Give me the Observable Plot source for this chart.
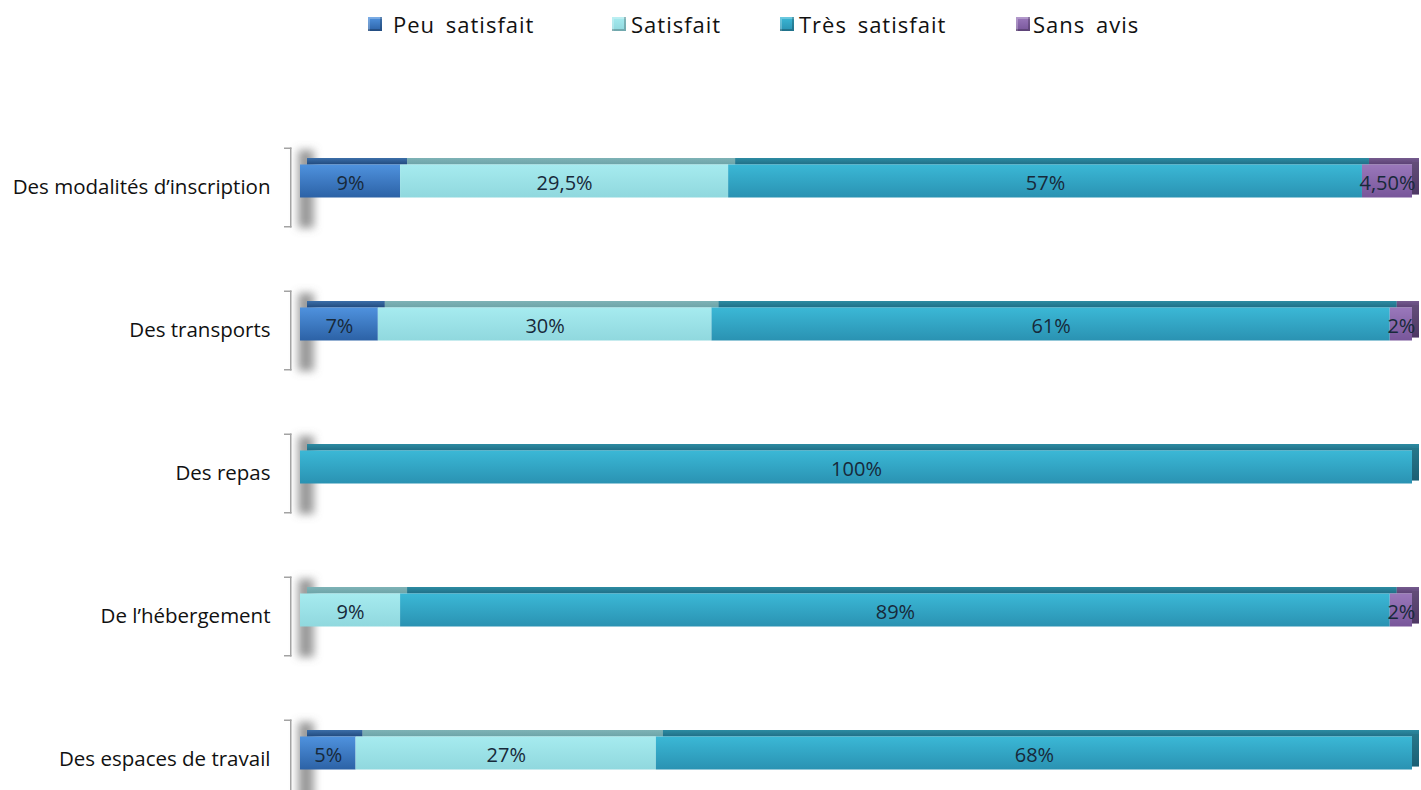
<!DOCTYPE html>
<html>
<head>
<meta charset="utf-8">
<script src="https://cdn.jsdelivr.net/npm/d3@7"></script>
<script src="https://cdn.jsdelivr.net/npm/@observablehq/plot@0.6"></script>
<style>
  html, body { margin: 0; padding: 0; background: #fff; }
  body { width: 1421px; height: 790px; overflow: hidden; font-family: "Open Sans", sans-serif; }
  #legend { position: relative; height: 40px; width: 1421px; }
  .item { position: absolute; top: 9px; font-size: 22px; line-height: 30px; letter-spacing: 1px; word-spacing: 4px; color: #111; display: flex; align-items: center; white-space: nowrap; }
  .sw { width: 14px; height: 14px; margin-right: 11px; box-shadow: inset -2px -2px 0 rgba(0,0,0,0.22), inset 2px 2px 0 rgba(255,255,255,0.25); }
</style>
</head>
<body>
<div id="legend"></div>
<div id="chart"></div>
<script>
const categories = ["Des modalités d’inscription", "Des transports", "Des repas", "De l’hébergement", "Des espaces de travail"];
const series = ["Peu satisfait", "Satisfait", "Très satisfait", "Sans avis"];
const peuSatisfait  = [9, 7, 0, 0, 5];
const satisfait     = [29.5, 30, 0, 9, 27];
const tresSatisfait = [57, 61, 100, 89, 68];
const sansAvis      = [4.5, 2, 0, 2, 0];
const labelsPeu   = ["9%", "7%", "", "", "5%"];
const labelsSat   = ["29,5%", "30%", "", "9%", "27%"];
const labelsTres  = ["57%", "61%", "100%", "89%", "68%"];
const labelsSans  = ["4,50%", "2%", "", "2%", ""];

const colorsTop = ["#4f92de", "#a6ebef", "#3bb8d6", "#9a78bb"];
const colorsBottom = ["#2c62a6", "#90d8de", "#2a92b2", "#78569a"];
const legendLeft = [368, 612, 780, 1016];

const valuesBySeries = [peuSatisfait, satisfait, tresSatisfait, sansAvis];
const labelsBySeries = [labelsPeu, labelsSat, labelsTres, labelsSans];

const rows = [];
categories.forEach((cat, i) => {
  series.forEach((s, j) => {
    rows.push({cat, series: s, value: valuesBySeries[j][i], label: labelsBySeries[j][i]});
  });
});
const lastSeries = new Map(categories.map((cat, i) => {
  let last = series[0];
  series.forEach((s, j) => { if (valuesBySeries[j][i] > 0) last = s; });
  return [cat, last];
}));

// legend
const legend = document.getElementById("legend");
series.forEach((s, j) => {
  const it = document.createElement("div");
  it.className = "item";
  it.style.left = legendLeft[j] + "px";
  const sw = document.createElement("span");
  sw.className = "sw";
  sw.style.background = `linear-gradient(${colorsTop[j]}, ${colorsBottom[j]})`;
  if (j === 3) sw.style.marginRight = "3px";
  if (j === 1 || j === 2) sw.style.marginRight = "5px";
  it.appendChild(sw);
  it.appendChild(document.createTextNode(s));
  legend.appendChild(it);
});

const bw = 86;
const frontInset = 26.5;
const shadowFill = "#707071";
const color = {domain: series, range: series.map((s, j) => `url(#grad${j})`)};

const chart = Plot.plot({
  width: 1421,
  height: 757,
  marginLeft: 300,
  marginRight: 9,
  marginTop: 97.5,
  marginBottom: 0,
  style: {fontFamily: "Open Sans, sans-serif", fontSize: "20px", background: "white", overflow: "visible"},
  x: {domain: [0, 100], axis: null},
  y: {domain: categories, paddingInner: 0.4, paddingOuter: 0, axis: null},
  color,
  marks: [
    // 3D wall shadow
    Plot.barX(categories, {x1: 0, x2: 0, y: d => d, insetLeft: -2, insetRight: -14, insetTop: 12, insetBottom: -4, fill: shadowFill, fillOpacity: 0.7}),
    // brackets
    Plot.barX(categories, {x1: 0, x2: 0, y: d => d, insetLeft: -10, insetRight: 8.5, insetTop: 9.5, insetBottom: -3.5, fill: "#a3a3a3"}),
    Plot.barX(categories, {x1: 0, x2: 0, y: d => d, insetLeft: -16, insetRight: 8.5, insetTop: 9.5, insetBottom: bw - 9.5 - 1.5, fill: "#a3a3a3"}),
    Plot.barX(categories, {x1: 0, x2: 0, y: d => d, insetLeft: -16, insetRight: 8.5, insetTop: bw + 3.5 - 1.5, insetBottom: -3.5, fill: "#a3a3a3"}),
    // top faces
    Plot.barX(rows, Plot.stackX({x: "value", y: "cat", fill: "series", insetTop: frontInset - 6.5, insetBottom: bw - frontInset, dx: 7})),
    Plot.barX(rows, Plot.stackX({x: "value", y: "cat", fill: "#000", fillOpacity: 0.24, insetTop: frontInset - 6.5, insetBottom: bw - frontInset, dx: 7})),
    // side face
    Plot.barX(categories, {x1: 100, x2: 100, y: d => d, insetRight: -7, insetTop: frontInset - 3, insetBottom: frontInset + 3, fill: d => lastSeries.get(d)}),
    Plot.barX(categories, {x1: 100, x2: 100, y: d => d, insetRight: -7, insetTop: frontInset - 3, insetBottom: frontInset + 3, fill: "#000", fillOpacity: 0.35}),
    // front faces
    Plot.barX(rows, Plot.stackX({x: "value", y: "cat", fill: "series", insetTop: frontInset, insetBottom: frontInset})),
    // labels
    Plot.text(rows, Plot.stackX({x: "value", y: "cat", text: "label", fill: "#17293a", fontSize: 20, dy: 2})),
    Plot.axisY({tickSize: 0, tickPadding: 30, label: null, fontSize: 20.5, dy: 6, fill: "#111"})
  ]
});

const ns = "http://www.w3.org/2000/svg";
const defs = document.createElementNS(ns, "defs");
series.forEach((s, j) => {
  const g = document.createElementNS(ns, "linearGradient");
  g.setAttribute("id", `grad${j}`);
  g.setAttribute("x1", "0"); g.setAttribute("y1", "0");
  g.setAttribute("x2", "0"); g.setAttribute("y2", "1");
  const s1 = document.createElementNS(ns, "stop");
  s1.setAttribute("offset", "0"); s1.setAttribute("stop-color", colorsTop[j]);
  const s2 = document.createElementNS(ns, "stop");
  s2.setAttribute("offset", "1"); s2.setAttribute("stop-color", colorsBottom[j]);
  g.appendChild(s1); g.appendChild(s2);
  defs.appendChild(g);
});
const f = document.createElementNS(ns, "filter");
f.setAttribute("id", "shadowblur");
f.setAttribute("x", "-150%"); f.setAttribute("y", "-50%");
f.setAttribute("width", "400%"); f.setAttribute("height", "200%");
const fb = document.createElementNS(ns, "feGaussianBlur");
fb.setAttribute("stdDeviation", "4");
f.appendChild(fb);
defs.appendChild(f);
chart.insertBefore(defs, chart.firstChild);
chart.querySelectorAll("g").forEach(g => {
  if ((g.getAttribute("fill") || "").toLowerCase() === shadowFill) g.setAttribute("filter", "url(#shadowblur)");
});

document.getElementById("chart").appendChild(chart);
</script>
</body>
</html>
